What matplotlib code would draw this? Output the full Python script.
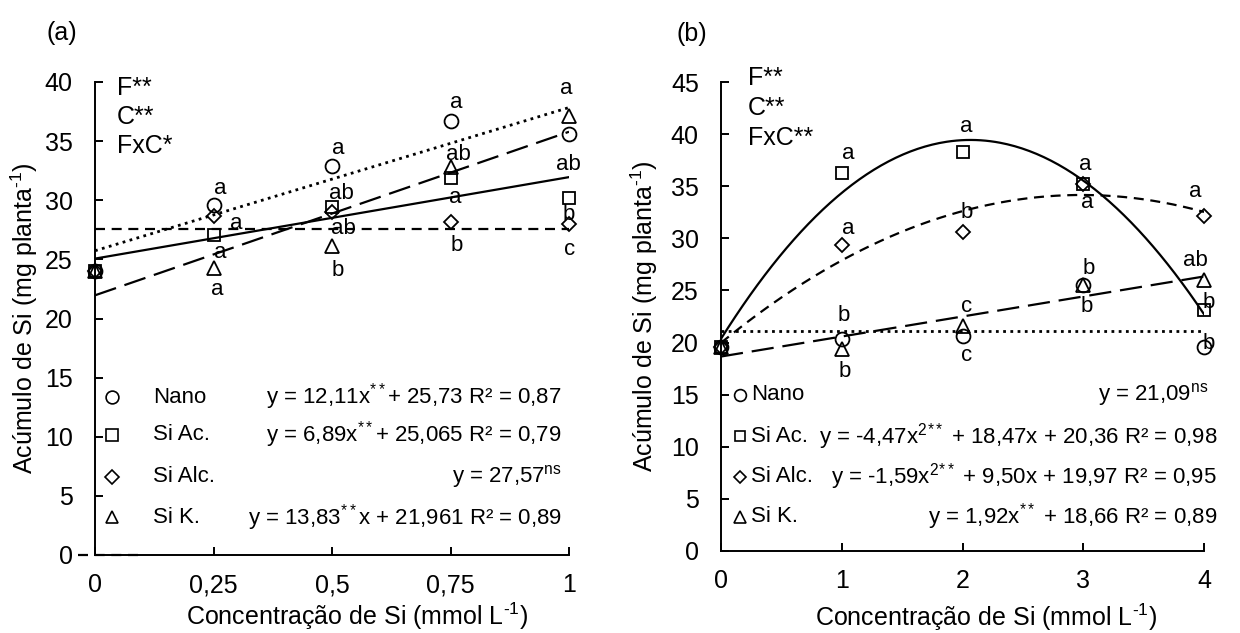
import numpy as np
import matplotlib
matplotlib.use("Agg")
import matplotlib.pyplot as plt

plt.rcParams['font.family'] = ['Liberation Sans', 'DejaVu Sans']
plt.rcParams['mathtext.fontset'] = 'custom'
plt.rcParams['mathtext.rm'] = 'Liberation Sans'
plt.rcParams['mathtext.it'] = 'Liberation Sans:italic'
plt.rcParams['mathtext.bf'] = 'Liberation Sans:bold'

# ---------------- Data: panel (a) ----------------
a_x = [0, 0.25, 0.5, 0.75, 1]
a_nano = [24.0, 29.6, 32.9, 36.7, 35.6]
a_siac = [24.0, 27.05, 29.4, 31.9, 30.2]
a_sialc = [24.0, 28.7, 29.0, 28.2, 27.95]
a_sik = [24.0, 24.3, 26.1, 32.8, 37.1]
a_coef_nano = [12.11, 25.73]
a_coef_siac = [6.89, 25.065]
a_coef_sialc = [27.57]
a_coef_sik = [13.83, 21.961]
a_xticks = [0, 0.25, 0.5, 0.75, 1]
a_xticklabels = ['0', '0,25', '0,5', '0,75', '1']
a_yticks = [0, 5, 10, 15, 20, 25, 30, 35, 40]
a_letters = ['a', 'a', 'a', 'a',
             'a', 'ab', 'ab', 'b',
             'a', 'ab', 'a', 'b',
             'a', 'ab', 'b', 'c']
a_letter_x = [0.264, 0.299, 0.264, 0.257,
              0.513, 0.52, 0.524, 0.513,
              0.763, 0.767, 0.759, 0.763,
              0.995, 0.999, 0.999, 1.002]
a_letter_y = [31.0, 28.0, 25.6, 22.45,
              34.4, 30.6, 27.6, 24.1,
              38.3, 33.9, 30.2, 26.2,
              39.45, 33.05, 28.8, 25.85]
a_stats = ['F**', 'C**', 'FxC*']
a_names = ['Nano', 'Si Ac.', 'Si Alc.', 'Si K.']
a_eqs = [r'y = 12,11x$^{**}$+ 25,73 R² = 0,87',
         r'y = 6,89x$^{**}$+ 25,065 R² = 0,79',
         r'y = 27,57$^{\mathrm{ns}}$',
         r'y = 13,83$^{**}$x + 21,961 R² = 0,89']

# ---------------- Data: panel (b) ----------------
b_x = [0, 1, 2, 3, 4]
b_nano = [19.6, 20.3, 20.6, 25.5, 19.6]
b_siac = [19.6, 36.3, 38.3, 35.2, 23.1]
b_sialc = [19.6, 29.4, 30.6, 35.2, 32.1]
b_sik = [19.6, 19.4, 21.6, 25.5, 26.0]
b_coef_nano = [21.09]
b_coef_siac = [-4.47, 18.47, 20.36]
b_coef_sialc = [-1.59, 9.50, 19.97]
b_coef_sik = [1.92, 18.66]
b_xticks = [0, 1, 2, 3, 4]
b_xticklabels = ['0', '1', '2', '3', '4']
b_yticks = [0, 5, 10, 15, 20, 25, 30, 35, 40, 45]
b_letters = ['a', 'a', 'b', 'b',
             'a', 'b', 'c', 'c',
             'a', 'a', 'b', 'b',
             'a', 'ab', 'b', 'b']
b_letter_x = [1.054, 1.054, 1.019, 1.027,
              2.035, 2.035, 2.035, 2.035,
              3.014, 3.029, 3.042, 3.029,
              3.925, 3.925, 4.036, 4.036]
b_letter_y = [38.1, 30.9, 22.55, 17.2,
              40.7, 32.5, 23.45, 18.8,
              37.1, 33.4, 27.1, 23.45,
              34.5, 27.9, 23.8, 19.9]
b_stats = ['F**', 'C**', 'FxC**']
b_names = ['Nano', 'Si Ac.', 'Si Alc.', 'Si K.']
b_eqs = [r'y = 21,09$^{\mathrm{ns}}$',
         r'y = -4,47x$^{2}$$^{**}$ + 18,47x + 20,36 R² = 0,98',
         r'y = -1,59x$^{2}$$^{**}$ + 9,50x + 19,97 R² = 0,95',
         r'y = 1,92x$^{**}$ + 18,66 R² = 0,89']

FS = 16     # letters, legend text
FT = 18     # ticks, axis labels, stats
markers = ['o', 's', 'D', '^']
msizes = [10, 9, 7.5, 10]
styles = {
    'nano': dict(linestyle=(0, (1, 1.6)), linewidth=2.0),
    'siac': dict(linestyle='-', linewidth=1.6),
    'sialc': dict(linestyle=(0, (4.5, 3)), linewidth=1.6),
    'sik': dict(linestyle=(0, (10, 4)), linewidth=1.6),
}

fig = plt.figure(figsize=(12.4, 6.33), dpi=100)
axa = fig.add_axes([95/1240, 1-555/633, 474/1240, 473/633])
axb = fig.add_axes([721/1240, 1-551/633, 483/1240, 469/633])


def style_axes(ax, xlim, ylim, xticks, xticklabels, yticks):
    ax.set_xlim(*xlim)
    ax.set_ylim(*ylim)
    ax.set_xticks(xticks)
    ax.set_xticklabels(xticklabels)
    ax.set_yticks(yticks)
    for s in ['top', 'right']:
        ax.spines[s].set_visible(False)
    for s in ['left', 'bottom']:
        ax.spines[s].set_linewidth(1.4)
    ax.tick_params(direction='in', length=6, width=1.4, labelsize=FT)
    ax.tick_params(axis='y', pad=16)
    ax.tick_params(axis='x', pad=13)
    ax.set_xlabel(r'Concentração de Si (mmol L$^{\text{-}1}$)', fontsize=FT)
    ax.set_ylabel(r'Acúmulo de Si (mg planta$^{\text{-}1}$)', fontsize=FT)
    ax.xaxis.label.set_va('center')
    ax.yaxis.label.set_va('center')


def draw_panel(ax, xs, series, coefs, keys, xfit_range):
    xf = np.linspace(xfit_range[0], xfit_range[1], 200)
    for c, k in zip(coefs, keys):
        ax.plot(xf, np.polyval(c, xf) * np.ones_like(xf), color='black', **styles[k], zorder=2)
    for ys, m, ms in zip(series, markers, msizes):
        ax.plot(xs, ys, linestyle='none', marker=m, markersize=ms, markerfacecolor='none',
                markeredgecolor='black', markeredgewidth=1.3, zorder=3, clip_on=False)


# ---- Panel (a)
style_axes(axa, (0, 1), (0, 40), a_xticks, a_xticklabels, a_yticks)
draw_panel(axa, a_x, [a_nano, a_siac, a_sialc, a_sik],
           [a_coef_nano, a_coef_siac, a_coef_sialc, a_coef_sik],
           ['nano', 'siac', 'sialc', 'sik'], (0, 1))
# stray dashed segment at y = 0 (as in the original)
axa.plot([-0.036, 0.099], [0, 0], color='black', linestyle=(0, (4.5, 3)), linewidth=1.6,
         clip_on=False, zorder=1)
for t, lx, ly in zip(a_letters, a_letter_x, a_letter_y):
    axa.text(lx, ly, t, fontsize=FS, ha='center', va='center')
for i, t in enumerate(a_stats):
    axa.text(22/474, (555-88-29*i)/473, t, transform=axa.transAxes, fontsize=FT,
             ha='left', va='center')
a_rows = [0.334, 0.254, 0.165, 0.080]
for i, (nm, eq) in enumerate(zip(a_names, a_eqs)):
    axa.plot([0.036], [a_rows[i]], transform=axa.transAxes, marker=markers[i],
             markersize=msizes[i]*0.92, markerfacecolor='none', markeredgecolor='black',
             markeredgewidth=1.2, linestyle='none', clip_on=False)
    axa.text(0.122, a_rows[i], nm, transform=axa.transAxes, fontsize=FS, ha='left', va='center')
    axa.text(0.985, a_rows[i], eq, transform=axa.transAxes, fontsize=FS, ha='right', va='center')
axa.xaxis.set_label_coords(0.553, -0.129)
axa.yaxis.set_label_coords(-0.150, 0.5)
fig.text(62/1240, 1-33/633, '(a)', fontsize=FT, ha='center', va='center')

# ---- Panel (b)
style_axes(axb, (0, 4), (0, 45), b_xticks, b_xticklabels, b_yticks)
draw_panel(axb, b_x, [b_nano, b_siac, b_sialc, b_sik],
           [b_coef_nano, b_coef_siac, b_coef_sialc, b_coef_sik],
           ['nano', 'siac', 'sialc', 'sik'], (0, 4))
for t, lx, ly in zip(b_letters, b_letter_x, b_letter_y):
    axb.text(lx, ly, t, fontsize=FS, ha='center', va='center')
for i, t in enumerate(b_stats):
    axb.text(27/483, (551-78-30*i)/469, t, transform=axb.transAxes, fontsize=FT,
             ha='left', va='center')
b_rows = [0.333, 0.245, 0.158, 0.073]
b_eq_x = [1.008, 1.027, 1.027, 1.027]
for i, (nm, eq) in enumerate(zip(b_names, b_eqs)):
    axb.plot([0.039], [b_rows[i]], transform=axb.transAxes, marker=markers[i],
             markersize=msizes[i]*0.85, markerfacecolor='none', markeredgecolor='black',
             markeredgewidth=1.2, linestyle='none', clip_on=False)
    axb.text(0.062, b_rows[i], nm, transform=axb.transAxes, fontsize=FS, ha='left', va='center')
    axb.text(b_eq_x[i], b_rows[i], eq, transform=axb.transAxes, fontsize=FS, ha='right', va='center')
axb.xaxis.set_label_coords(0.549, -0.141)
axb.yaxis.set_label_coords(-0.158, 0.5)
fig.text(692/1240, 1-34/633, '(b)', fontsize=FT, ha='center', va='center')

fig.savefig('out.png', dpi=100)
